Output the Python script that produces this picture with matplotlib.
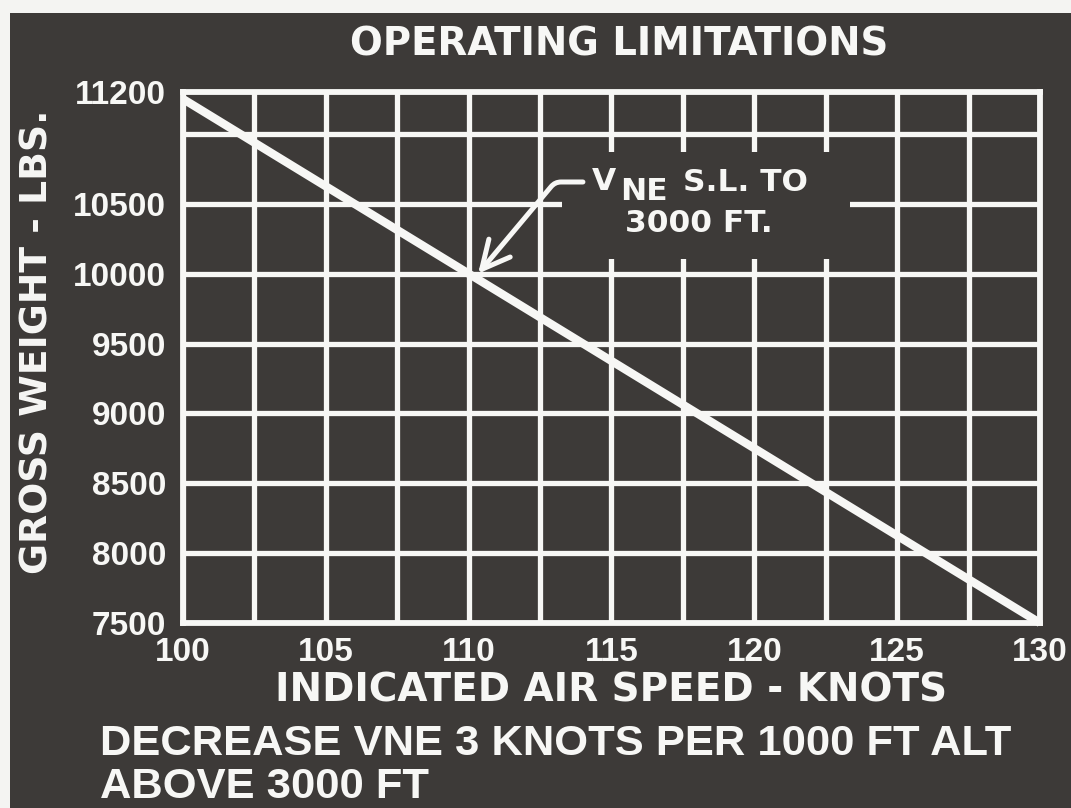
import numpy as np
import matplotlib
matplotlib.use("Agg")
import matplotlib.pyplot as plt
from matplotlib.patches import Rectangle

# ------------------------------------------------------
# data
airspeed = [100, 110, 120, 130]            # knots
gross_weight = [11250, 10000, 8750, 7500]  # lbs

x_ticks = [100, 105, 110, 115, 120, 125, 130]
y_ticks = [7500, 8000, 8500, 9000, 9500, 10000, 10500, 11300]
y_tick_labels = ["7500", "8000", "8500", "9000", "9500", "10000", "10500", "11200"]

title = "OPERATING LIMITATIONS"
x_label = "INDICATED AIR SPEED - KNOTS"
y_label = "GROSS WEIGHT - LBS."
note_1 = "DECREASE VNE 3 KNOTS PER 1000 FT ALT"
note_2 = "ABOVE 3000 FT"

# ------------------------------------------------------
BG = "#3d3a38"
FG = "#f7f7f5"
TICK_FONT = ["Liberation Sans", "DejaVu Sans"]
LABEL_FONT = ["DejaVu Sans"]

plt.rcParams["font.family"] = TICK_FONT

fig = plt.figure(figsize=(10.71, 8.08), dpi=100, facecolor=BG)
ax = fig.add_axes([183 / 1071, 1 - 623 / 808, (1040 - 183) / 1071, (623 - 92) / 808])
ax.set_facecolor(BG)

# white scan margins at top and left
fig.patches.append(Rectangle((0, 1 - 13 / 808), 1, 13 / 808, transform=fig.transFigure,
                             facecolor="#f4f4f2", edgecolor="none", zorder=0))
fig.patches.append(Rectangle((0, 0), 10 / 1071, 1, transform=fig.transFigure,
                             facecolor="#f4f4f2", edgecolor="none", zorder=0))

ax.set_xlim(100, 130)
ax.set_ylim(7500, 11300)

# grid on minor ticks, labels on major ticks
ax.xaxis.remove_overlapping_locs = False
ax.yaxis.remove_overlapping_locs = False
ax.set_xticks(np.arange(100, 130.1, 2.5), minor=True)
ax.set_yticks(np.arange(7500, 11001, 500), minor=True)
ax.set_xticks(x_ticks)
ax.set_yticks(y_ticks)
ax.set_yticklabels(y_tick_labels)
ax.set_axisbelow(True)
ax.grid(which="minor", color=FG, linewidth=3.8)
ax.grid(which="major", visible=False)
ax.tick_params(which="both", length=0, colors=FG, labelsize=24)
ax.tick_params(axis="x", pad=10)
ax.tick_params(axis="y", pad=12)
for lbl in ax.get_xticklabels() + ax.get_yticklabels():
    lbl.set_fontweight("bold")

for sp in ax.spines.values():
    sp.set_color(FG)
    sp.set_linewidth(4.2)

# the Vne line
ax.plot(airspeed, gross_weight, color=FG, linewidth=6, solid_capstyle="butt", zorder=3, clip_on=False)

# label backing that hides the grid behind the callout text
ax.add_patch(Rectangle((113.27, 10103), 123.35 - 113.27, 10871 - 10103,
                       facecolor=BG, edgecolor="none", zorder=1.5))

# callout arrow
ax.annotate("", xy=(110.33, 10000), xytext=(114.0, 10656),
            arrowprops=dict(arrowstyle="->,head_length=1.0,head_width=0.5",
                            connectionstyle="angle,angleA=0,angleB=50,rad=6",
                            color=FG, linewidth=3.6, mutation_scale=20,
                            shrinkA=0, shrinkB=0),
            zorder=4)

callout = dict(color=FG, fontsize=22.5, fontweight="bold", family=LABEL_FONT, va="center", zorder=4)
ax.text(114.74, 10659, "V", ha="center", **callout)
ax.text(116.14, 10591, "NE", ha="center", **callout)
ax.text(117.5, 10652, "S.L. TO", ha="left", **callout)
ax.text(118.06, 10358, "3000 FT.", ha="center", **callout)

# titles and notes
label = dict(color=FG, fontweight="bold", family=LABEL_FONT, va="center")
fig.text(619 / 1071, 1 - 44 / 808, title, fontsize=27.8, ha="center", **label)
fig.text(611 / 1071, 1 - 690 / 808, x_label, fontsize=28, ha="center", **label)
fig.text(38 / 1071, 1 - 342 / 808, y_label, fontsize=27.2, ha="center", rotation=90, **label)
note = dict(color=FG, fontsize=31.3, fontweight="bold", ha="left")
fig.text(100 / 1071, 1 - 744 / 808, note_1, va="center", **note)
fig.text(100 / 1071, 1 / 808, note_2, va="bottom", **note)

fig.savefig("out.png", dpi=100, facecolor=BG)
